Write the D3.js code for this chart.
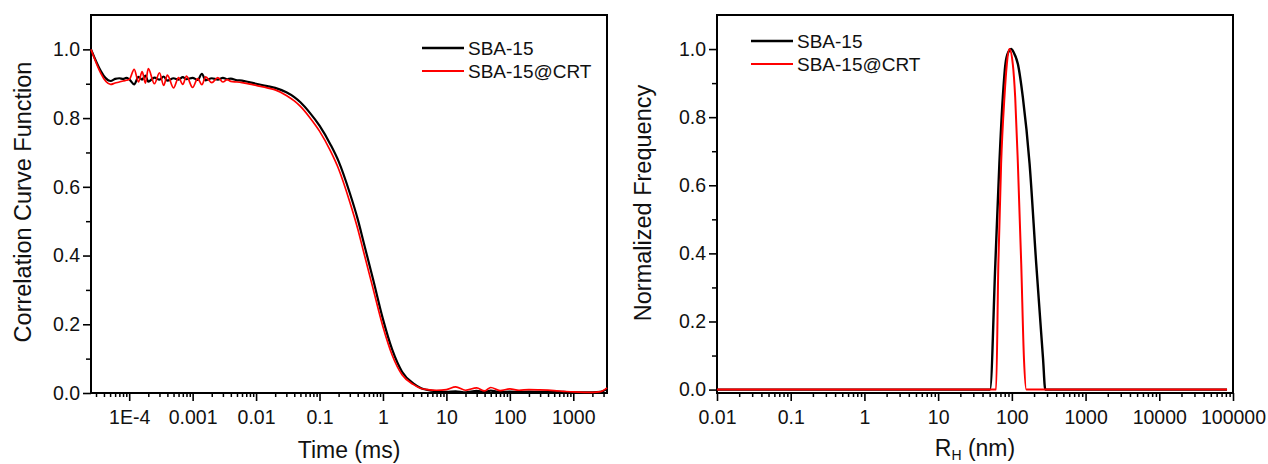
<!DOCTYPE html>
<html>
<head>
<meta charset="utf-8">
<script src="https://cdn.jsdelivr.net/npm/d3@7"></script>
<style>
  body { margin: 0; background: #fff; }
  text { font-family: "Liberation Sans", Arial, sans-serif; fill: #111; }
</style>
</head>
<body>
<div id="chart"></div>
<script>
// left panel: correlation curve vs delay time (ms)
var timeMs = [2.5e-5,
  5.1e-5, 6e-5, 7e-5, 8e-5, 9e-5, 1.0e-4, 1.2e-4, 1.4e-4, 1.6e-4, 1.8e-4, 2.0e-4,
  2.5e-4, 3.0e-4, 3.5e-4, 4.0e-4, 5.0e-4, 6.0e-4, 7.0e-4, 8.0e-4, 1.0e-3, 1.2e-3,
  1.4e-3, 1.6e-3, 2.0e-3, 2.5e-3, 3.0e-3, 3.5e-3, 4.0e-3, 5.0e-3, 6.0e-3, 8.0e-3,
  0.01, 0.015, 0.02, 0.03, 0.04, 0.05, 0.07, 0.1, 0.15, 0.2, 0.3, 0.4, 0.5, 0.7, 1.0,
  1.4, 2.0, 3.0, 4.0, 5.0, 7.0,
  10, 14, 20, 30, 40, 50, 70, 100, 140, 200, 300, 500, 700, 1000, 1500, 2000, 2700, 3400];

var corrSBA = [1.0,
  0.908, 0.914, 0.916, 0.914, 0.917, 0.913, 0.898, 0.920, 0.912, 0.924, 0.906,
  0.918, 0.912, 0.921, 0.909, 0.916, 0.912, 0.919, 0.913, 0.917, 0.911,
  0.929, 0.910, 0.916, 0.912, 0.917, 0.913, 0.915, 0.910, 0.909, 0.904,
  0.900, 0.893, 0.888, 0.875, 0.861, 0.846, 0.816, 0.778, 0.722, 0.674, 0.582, 0.506, 0.436, 0.330, 0.215,
  0.126, 0.062, 0.028, 0.014, 0.009, 0.005,
  0.003, 0.005, 0.002, 0.006, 0.003, 0.007, 0.003, 0.004, 0.003, 0.004, 0.003, 0.004, 0.003, 0.002, 0.002, 0.002, 0.003, 0.012];

var corrCRT = [1.0,
  0.898, 0.902, 0.905, 0.908, 0.910, 0.912, 0.942, 0.905, 0.935, 0.902, 0.944,
  0.900, 0.932, 0.895, 0.925, 0.888, 0.918, 0.898, 0.922, 0.889, 0.915,
  0.897, 0.920, 0.903, 0.918, 0.905, 0.912, 0.907, 0.905, 0.903, 0.899,
  0.895, 0.888, 0.882, 0.866, 0.850, 0.834, 0.802, 0.762, 0.703, 0.652, 0.556, 0.478, 0.408, 0.303, 0.193,
  0.110, 0.053, 0.025, 0.013, 0.010, 0.008,
  0.010, 0.018, 0.008, 0.015, 0.006, 0.016, 0.007, 0.012, 0.008, 0.010, 0.009, 0.007, 0.005, 0.003, 0.002, 0.002, 0.004, 0.015];

var timeTicks = [1e-4, 1e-3, 0.01, 0.1, 1, 10, 100, 1000];
var timeTickLabels = ["1E-4", "0.001", "0.01", "0.1", "1", "10", "100", "1000"];

// right panel: size distribution, hydrodynamic radius (nm)
var radiusSBA = [0.01, 50.6, 59.7, 67.7, 75.4, 81.8, 90, 97.8, 106, 120.7, 141, 174, 214, 265, 284, 83000];
var freqSBA   = [0, 0, 0.37, 0.663, 0.858, 0.956, 0.992, 1.0, 0.99, 0.956, 0.858, 0.663, 0.37, 0.09, 0, 0];
var radiusCRT = [0.01, 61.1, 65.6, 71.5, 79.3, 85.5, 92.7, 103, 111, 120.7, 134, 146, 157, 83000];
var freqCRT   = [0, 0, 0.37, 0.663, 0.858, 0.956, 1.0, 0.956, 0.858, 0.663, 0.37, 0.09, 0, 0];

var radiusTicks = [0.01, 0.1, 1, 10, 100, 1000, 10000, 100000];
var radiusTickLabels = ["0.01", "0.1", "1", "10", "100", "1000", "10000", "100000"];

var yTicks = [0, 0.2, 0.4, 0.6, 0.8, 1.0];
var yMinorTicks = [0.1, 0.3, 0.5, 0.7, 0.9];

var seriesNames = ["SBA-15", "SBA-15@CRT"];
var seriesColors = ["#000000", "#ff0000"];

var svg = d3.select("#chart").append("svg")
  .attr("width", 1268)
  .attr("height", 464);

function logMinors(domain) {
  var out = [];
  var lo = Math.floor(Math.log10(domain[0])), hi = Math.ceil(Math.log10(domain[1]));
  for (var e = lo; e < hi; e++) {
    for (var m = 2; m <= 9; m++) {
      var v = m * Math.pow(10, e);
      if (v >= domain[0] && v <= domain[1]) out.push(v);
    }
  }
  return out;
}

function panel(opt) {
  var x = d3.scaleLog().domain(opt.xDomain).range([opt.left, opt.right]);
  var y = d3.scaleLinear().domain(opt.yDomain).range([opt.bottom, opt.top]);
  var g = svg.append("g");

  // minor ticks
  g.append("g")
    .attr("transform", "translate(0," + opt.bottom + ")")
    .call(d3.axisBottom(x).tickValues(logMinors(opt.xDomain)).tickFormat("").tickSizeInner(4).tickSizeOuter(0))
    .call(function(a) { a.select(".domain").remove(); a.selectAll("line").attr("stroke-width", 1.5); });
  g.append("g")
    .attr("transform", "translate(" + opt.left + ",0)")
    .call(d3.axisLeft(y).tickValues(yMinorTicks).tickFormat("").tickSizeInner(5).tickSizeOuter(0))
    .call(function(a) { a.select(".domain").remove(); a.selectAll("line").attr("stroke-width", 1.5); });

  // major ticks with labels
  var xa = g.append("g")
    .attr("transform", "translate(0," + opt.bottom + ")")
    .call(d3.axisBottom(x).tickValues(opt.xTicks)
      .tickFormat(function(d, i) { return opt.xLabels[i]; })
      .tickSizeInner(8).tickSizeOuter(0).tickPadding(9));
  xa.select(".domain").remove();
  xa.selectAll("line").attr("stroke-width", 1.6);
  xa.selectAll("text").attr("font-size", 19.5).attr("fill", "#111")
    .style("font-family", "'Liberation Sans', Arial, sans-serif");

  var ya = g.append("g")
    .attr("transform", "translate(" + opt.left + ",0)")
    .call(d3.axisLeft(y).tickValues(yTicks)
      .tickFormat(d3.format(".1f"))
      .tickSizeInner(8).tickSizeOuter(0).tickPadding(3));
  ya.select(".domain").remove();
  ya.selectAll("line").attr("stroke-width", 1.6);
  ya.selectAll("text").attr("font-size", 19.5).attr("fill", "#111")
    .style("font-family", "'Liberation Sans', Arial, sans-serif");

  // frame
  g.append("rect")
    .attr("x", opt.left).attr("y", opt.top)
    .attr("width", opt.right - opt.left).attr("height", opt.bottom - opt.top)
    .attr("fill", "none").attr("stroke", "#000").attr("stroke-width", 2);

  // data lines
  opt.series.forEach(function(s) {
    var pts = s.xs.map(function(v, i) { return [v, s.ys[i]]; });
    g.append("path")
      .datum(pts)
      .attr("fill", "none")
      .attr("stroke", s.color)
      .attr("stroke-width", s.width)
      .attr("stroke-linejoin", "round")
      .attr("d", d3.line()
        .x(function(d) { return x(d[0]); })
        .y(function(d) { return y(d[1]); })
        .curve(opt.curve));
  });

  // legend
  seriesNames.forEach(function(name, i) {
    var ly = opt.legendY + i * 23;
    g.append("line")
      .attr("x1", opt.legendX).attr("x2", opt.legendX + 42)
      .attr("y1", ly).attr("y2", ly)
      .attr("stroke", seriesColors[i]).attr("stroke-width", i === 0 ? 2.6 : 2);
    g.append("text")
      .attr("x", opt.legendX + 46).attr("y", ly + 7)
      .attr("font-size", 19)
      .text(name);
  });

  return g;
}

var left = panel({
  xDomain: [2.5e-5, 3400], yDomain: [0, 1.1],
  left: 91, right: 607, top: 15, bottom: 393,
  xTicks: timeTicks, xLabels: timeTickLabels,
  curve: d3.curveMonotoneX,
  series: [
    { xs: timeMs, ys: corrSBA, color: seriesColors[0], width: 2.2 },
    { xs: timeMs, ys: corrCRT, color: seriesColors[1], width: 1.7 }
  ],
  legendX: 422, legendY: 48
});

var right = panel({
  xDomain: [0.01, 100000], yDomain: [-0.01, 1.1],
  left: 717, right: 1233, top: 15, bottom: 393,
  xTicks: radiusTicks, xLabels: radiusTickLabels,
  curve: d3.curveMonotoneX,
  series: [
    { xs: radiusSBA, ys: freqSBA, color: seriesColors[0], width: 2.4 },
    { xs: radiusCRT, ys: freqCRT, color: seriesColors[1], width: 2 }
  ],
  legendX: 751, legendY: 41
});

// axis titles
svg.append("text")
  .attr("x", 349).attr("y", 458)
  .attr("text-anchor", "middle").attr("font-size", 23)
  .text("Time (ms)");

svg.append("text")
  .attr("transform", "translate(31,202) rotate(-90)")
  .attr("text-anchor", "middle").attr("font-size", 23.5)
  .text("Correlation Curve Function");

var rh = svg.append("text")
  .attr("x", 975).attr("y", 456)
  .attr("text-anchor", "middle").attr("font-size", 23);
rh.append("tspan").text("R");
rh.append("tspan").attr("font-size", 14).attr("dy", 4).text("H");
rh.append("tspan").attr("dy", -4).text(" (nm)");

svg.append("text")
  .attr("transform", "translate(651,203) rotate(-90)")
  .attr("text-anchor", "middle").attr("font-size", 23.5)
  .text("Normalized Frequency");
</script>
</body>
</html>
